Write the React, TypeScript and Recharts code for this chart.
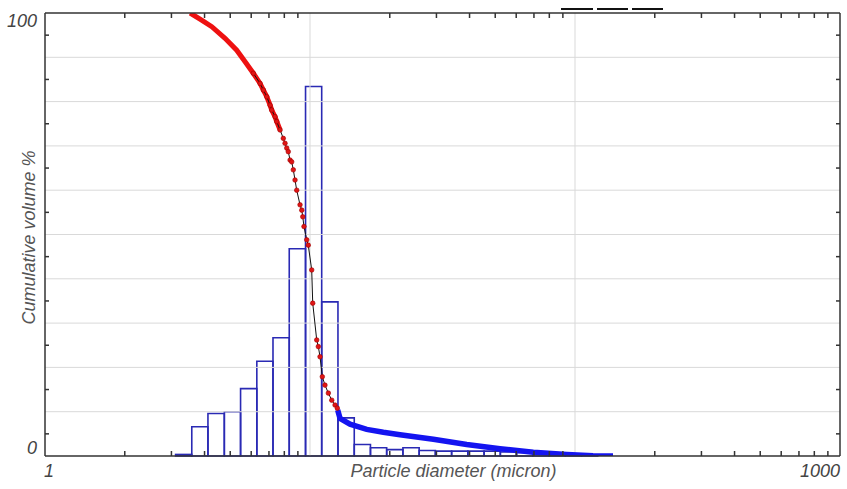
import React from "react";
import {
  ComposedChart,
  Line,
  XAxis,
  YAxis,
  ReferenceArea,
  ReferenceLine,
} from "recharts";

// histogram: bin edges (micron) and volume % per bin
const binEdges = [
  3.11, 3.58, 4.12, 4.75, 5.47, 6.3, 7.25, 8.35, 9.62, 11.07, 12.75, 14.69,
  16.91, 19.47, 22.42, 25.82, 29.73, 34.23, 39.42, 45.39, 52.27, 60.19, 69.3,
  79.8, 91.9, 105.8, 121.8,
];
const binVolume = [
  0.35, 6.6, 9.6, 10.0, 15.2, 21.4, 26.7, 46.8, 83.4, 34.8, 8.6, 2.6, 1.85,
  1.45, 1.85, 1.25, 1.1, 1.1, 1.1, 1.1, 0.9, 0.8, 0.6, 0.4, 0.3, 0.15,
];

// cumulative curve, measured part (red dots)
const redDiameter = [
  3.53, 3.9, 4.26, 4.78, 5.29, 5.69, 6.11, 6.48, 6.67, 6.87, 7.07, 7.17, 7.38,
  7.49, 7.71, 7.93, 8.05, 8.17, 8.28, 8.41, 8.53, 8.65, 8.78, 8.91, 9.17, 9.31,
  9.39, 9.49, 9.72, 9.85, 10.15, 10.24, 10.6, 10.75, 10.91, 11.13, 11.39,
  11.73, 12.08, 12.43, 12.68,
];
const redVolume = [
  100, 98.4, 96.9, 94.3, 91.6, 89.0, 86.4, 84.1, 82.6, 81.1, 79.2, 78.1, 76.6,
  75.5, 73.6, 71.7, 70.6, 69.5, 68.7, 66.8, 66.4, 64.6, 62.3, 60.0, 56.7, 55.5,
  54.0, 51.8, 48.8, 47.6, 42.0, 34.5, 26.2, 24.7, 22.4, 17.9, 16.0, 14.2,
  12.6, 11.5, 10.8,
];

// cumulative curve, tail (blue)
const blueDiameter = [
  12.72, 12.98, 14.16, 16.37, 18.91, 21.86, 29.2, 39.03, 52.12, 69.6, 93.05,
  116.9, 139.1,
];
const blueVolume = [10.4, 8.5, 7.2, 6.0, 5.35, 4.8, 3.8, 2.6, 1.65, 0.84, 0.34, 0.07, 0];

const gridVolume = [10, 20, 30, 40, 50, 60, 70, 80, 90];
const gridDiameter = [10, 100];
const yTicks = [0, 5, 15, 25, 35, 45, 55, 65, 75, 85, 95, 100];
const xTicks = [1, 10, 100, 1000].flatMap((d) =>
  d === 1000 ? [1000] : [1, 2, 3, 4, 5, 6, 7, 8, 9].map((m) => m * d)
);

const redData = redDiameter.map((d, i) => ({ d, v: redVolume[i] }));
const redTop = redData.slice(0, 15);
const redDots = redData.slice(6);
const blueData = blueDiameter.map((d, i) => ({ d, v: blueVolume[i] }));

const AXIS = "#333";
const FONT = "'Liberation Sans', Arial, sans-serif";
const isDecade = (v: number) => [1, 10, 100, 1000].includes(v);

const BottomTick = ({ x, y, payload }: any) => {
  const v = payload.value;
  return (
    <g>
      {!isDecade(v) && <line x1={x} x2={x} y1={y} y2={y - 5} stroke={AXIS} strokeWidth={1.5} />}
      {(v === 1 || v === 1000) && (
        <text
          x={v === 1 ? x - 1 : x}
          y={y + 21}
          textAnchor={v === 1 ? "start" : "end"}
          fontFamily={FONT}
          fontStyle="italic"
          fontSize={18}
          fill="#444"
        >
          {v}
        </text>
      )}
    </g>
  );
};

const TopTick = ({ x, y, payload }: any) =>
  isDecade(payload.value) ? <g /> : (
    <line x1={x} x2={x} y1={y} y2={y + 5} stroke={AXIS} strokeWidth={1.5} />
  );

const LeftTick = ({ x, y, payload }: any) => {
  const v = payload.value;
  if (v === 0 || v === 100)
    return (
      <text
        x={x - 8}
        y={v === 0 ? y - 2.5 : y + 14}
        textAnchor="end"
        fontFamily={FONT}
        fontStyle="italic"
        fontSize={18}
        fill="#444"
      >
        {v}
      </text>
    );
  return <line x1={x} x2={x + 4} y1={y} y2={y} stroke={AXIS} strokeWidth={1.5} />;
};

const RightTick = ({ x, y, payload }: any) =>
  payload.value === 0 || payload.value === 100 ? <g /> : (
    <line x1={x} x2={x - 4} y1={y} y2={y} stroke={AXIS} strokeWidth={1.5} />
  );

const YTitle = ({ viewBox }: any) => {
  const cx = 35;
  const cy = viewBox ? viewBox.y + viewBox.height / 2 + 3 : 238;
  return (
    <text
      x={cx}
      y={cy}
      transform={`rotate(-90 ${cx} ${cy})`}
      textAnchor="middle"
      fontFamily={FONT}
      fontStyle="italic"
      fontSize={18}
      fill="#555"
    >
      Cumulative volume %
    </text>
  );
};

const XTitle = ({ viewBox }: any) => {
  const cx = viewBox ? viewBox.x + viewBox.width / 2 + 11 : 454;
  const cy = viewBox ? viewBox.y + 21 : 477;
  return (
    <text x={cx} y={cy} textAnchor="middle" fontFamily={FONT} fontStyle="italic" fontSize={18} fill="#555">
      Particle diameter (micron)
    </text>
  );
};

export default function App() {
  return (
    <div style={{ position: "absolute", left: 0, top: 0, width: 847, height: 489, background: "#fff" }}>
      <div style={{ position: "absolute", top: 8, left: 561, width: 32, height: 2, background: "#111" }} />
      <div style={{ position: "absolute", top: 8, left: 597, width: 31, height: 2, background: "#111" }} />
      <div style={{ position: "absolute", top: 8, left: 632, width: 31, height: 2, background: "#111" }} />
      <ComposedChart width={847} height={489} margin={{ top: 0, right: 0, bottom: 0, left: 0 }}>
        <XAxis
          dataKey="d"
          type="number"
          scale="log"
          domain={[1, 1000]}
          allowDataOverflow
          ticks={xTicks}
          interval={0}
          height={33}
          tickSize={0}
          tickMargin={0}
          tickLine={false}
          tick={<BottomTick />}
          axisLine={{ stroke: AXIS, strokeWidth: 1.5 }}
          label={<XTitle />}
        />
        <XAxis
          xAxisId="top"
          orientation="top"
          dataKey="d"
          type="number"
          scale="log"
          domain={[1, 1000]}
          allowDataOverflow
          ticks={xTicks}
          interval={0}
          height={13}
          tickSize={0}
          tickMargin={0}
          tickLine={false}
          tick={<TopTick />}
          axisLine={{ stroke: AXIS, strokeWidth: 1.5 }}
        />
        <YAxis
          type="number"
          domain={[0, 100]}
          allowDataOverflow
          ticks={yTicks}
          interval={0}
          width={45}
          tickSize={0}
          tickMargin={0}
          tickLine={false}
          tick={<LeftTick />}
          axisLine={{ stroke: AXIS, strokeWidth: 1.5 }}
          label={<YTitle />}
        />
        <YAxis
          yAxisId="right"
          orientation="right"
          type="number"
          domain={[0, 100]}
          allowDataOverflow
          ticks={yTicks}
          interval={0}
          width={7}
          tickSize={0}
          tickMargin={0}
          tickLine={false}
          tick={<RightTick />}
          axisLine={{ stroke: AXIS, strokeWidth: 1.5 }}
        />
        {gridVolume.map((v) => (
          <ReferenceLine key={`gy${v}`} y={v} stroke="#d9d9d9" strokeWidth={1} />
        ))}
        {gridDiameter.map((d) => (
          <ReferenceLine key={`gx${d}`} x={d} stroke="#d9d9d9" strokeWidth={1} />
        ))}
        {binVolume.map((v, i) => (
          <ReferenceArea
            key={`bin${i}`}
            x1={binEdges[i]}
            x2={binEdges[i + 1]}
            y1={0}
            y2={v}
            fill="none"
            fillOpacity={0}
            stroke="#2a2ab4"
            strokeWidth={1.6}
            ifOverflow="visible"
          />
        ))}
        <Line
          data={blueData}
          dataKey="v"
          type="linear"
          stroke="#1414f0"
          strokeWidth={5.5}
          dot={false}
          isAnimationActive={false}
        />
        <Line
          data={redTop}
          dataKey="v"
          type="linear"
          stroke="#ee1111"
          strokeWidth={5}
          dot={false}
          isAnimationActive={false}
        />
        <Line
          data={redDots}
          dataKey="v"
          type="linear"
          stroke="#111"
          strokeWidth={1}
          dot={{ r: 2.3, fill: "#e01515", stroke: "#a00000", strokeWidth: 0.6 }}
          isAnimationActive={false}
        />
      </ComposedChart>
    </div>
  );
}
